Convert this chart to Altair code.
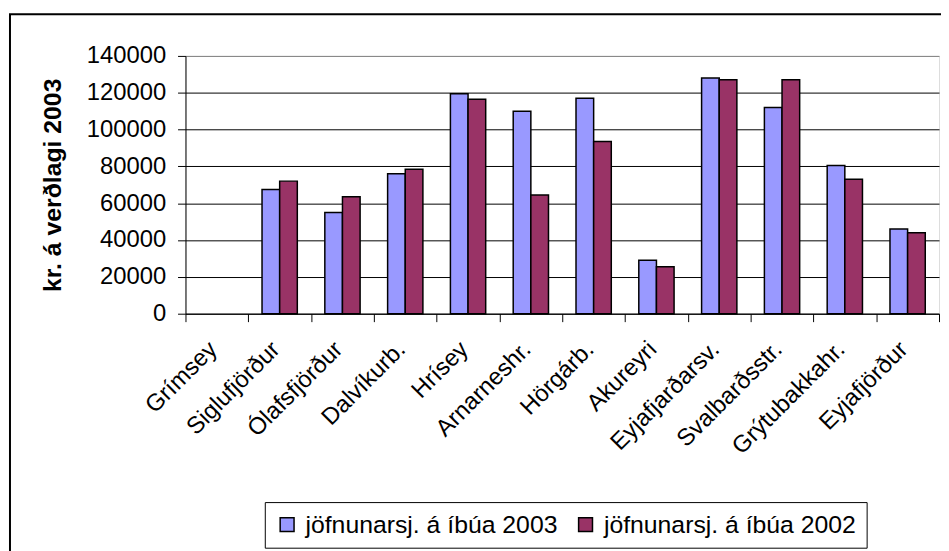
import altair as alt
import pandas as pd

categories = ["Grímsey", "Siglufjörður", "Ólafsfjörður", "Dalvíkurb.", "Hrísey",
              "Arnarneshr.", "Hörgárb.", "Akureyri", "Eyjafjarðarsv.", "Svalbarðsstr.",
              "Grýtubakkahr.", "Eyjafjörður"]
values_2003 = [None, 67500, 55000, 76000, 119500, 110000, 117000, 29000, 128000, 112000, 80500, 46000]
values_2002 = [None, 72000, 63500, 78500, 116500, 64500, 93500, 25500, 127000, 127000, 73000, 44000]
series_names = ["jöfnunarsj. á íbúa 2003", "jöfnunarsj. á íbúa 2002"]
series_colors = ["#9999FF", "#993366"]
y_ticks = [0, 20000, 40000, 60000, 80000, 100000, 120000, 140000]

rows = []
for name, vals in zip(series_names, [values_2003, values_2002]):
    for c, v in zip(categories, vals):
        if v is not None:
            rows.append({"sveitarfélag": c, "röð": name, "gildi": v})
df = pd.DataFrame(rows)

FONT = "Liberation Sans"

bars = alt.Chart(df).mark_bar(stroke="black", strokeWidth=1.5, opacity=1).encode(
    x=alt.X("sveitarfélag:N",
            scale=alt.Scale(domain=categories, paddingInner=0, paddingOuter=0),
            axis=alt.Axis(title=None, labelAngle=-45, labelAlign="right", labelBaseline="middle",
                          labelFontSize=24, labelColor="black", labelPadding=24, labelOffset=-4,
                          tickBand="extent", tickSize=8, tickColor="black",
                          domainColor="black", labelFont=FONT)),
    xOffset=alt.XOffset("röð:N", scale=alt.Scale(domain=series_names, paddingInner=0, paddingOuter=0.78)),
    y=alt.Y("gildi:Q",
            scale=alt.Scale(domain=[0, 140000], nice=False, zero=True),
            axis=alt.Axis(values=y_ticks, format="d", title="kr. á verðlagi 2003",
                          titleFontSize=25, titleFontWeight="bold", titleColor="black",
                          titleAngle=-90, titleX=-134, titleY=130, titleAlign="center",
                          titleBaseline="middle", titleFont=FONT,
                          labelFontSize=24, labelColor="black", labelPadding=12, labelFont=FONT,
                          tickSize=8, tickColor="black", domainColor="black",
                          grid=True, gridColor=alt.condition("datum.value >= 140000", alt.value("#808080"), alt.value("black")),
                          gridWidth=1, gridOpacity=1)),
    color=alt.Color("röð:N", scale=alt.Scale(domain=series_names, range=series_colors),
                    legend=alt.Legend(title=None, orient="none", legendX=80, legendY=450,
                                      direction="horizontal", columns=2,
                                      symbolType="square", symbolSize=196, symbolStrokeColor="black",
                                      symbolStrokeWidth=1.5, symbolOpacity=1,
                                      labelFontSize=25, labelFont=FONT, labelColor="black",
                                      labelOffset=6, columnPadding=15, padding=10,
                                      strokeColor="black", fillColor="white", labelLimit=400)),
)

frame = alt.Chart(pd.DataFrame({"k": [0]})).mark_rect(fill=None, stroke="black", strokeWidth=2).encode(
    x=alt.value(-177), x2=alt.value(800), y=alt.value(-42), y2=alt.value(520)
)

chart = alt.layer(frame, bars).properties(
    width=760, height=260,
    autosize=alt.AutoSizeParams(type="none"),
    padding={"left": 179, "top": 46, "right": 2, "bottom": 237},
).configure_view(
    fill="#C0C0C0", stroke="#808080", strokeWidth=1.5
).configure(
    font=FONT, background="white"
)

chart.save("out.html", embed_options={"renderer": "svg", "actions": False})
